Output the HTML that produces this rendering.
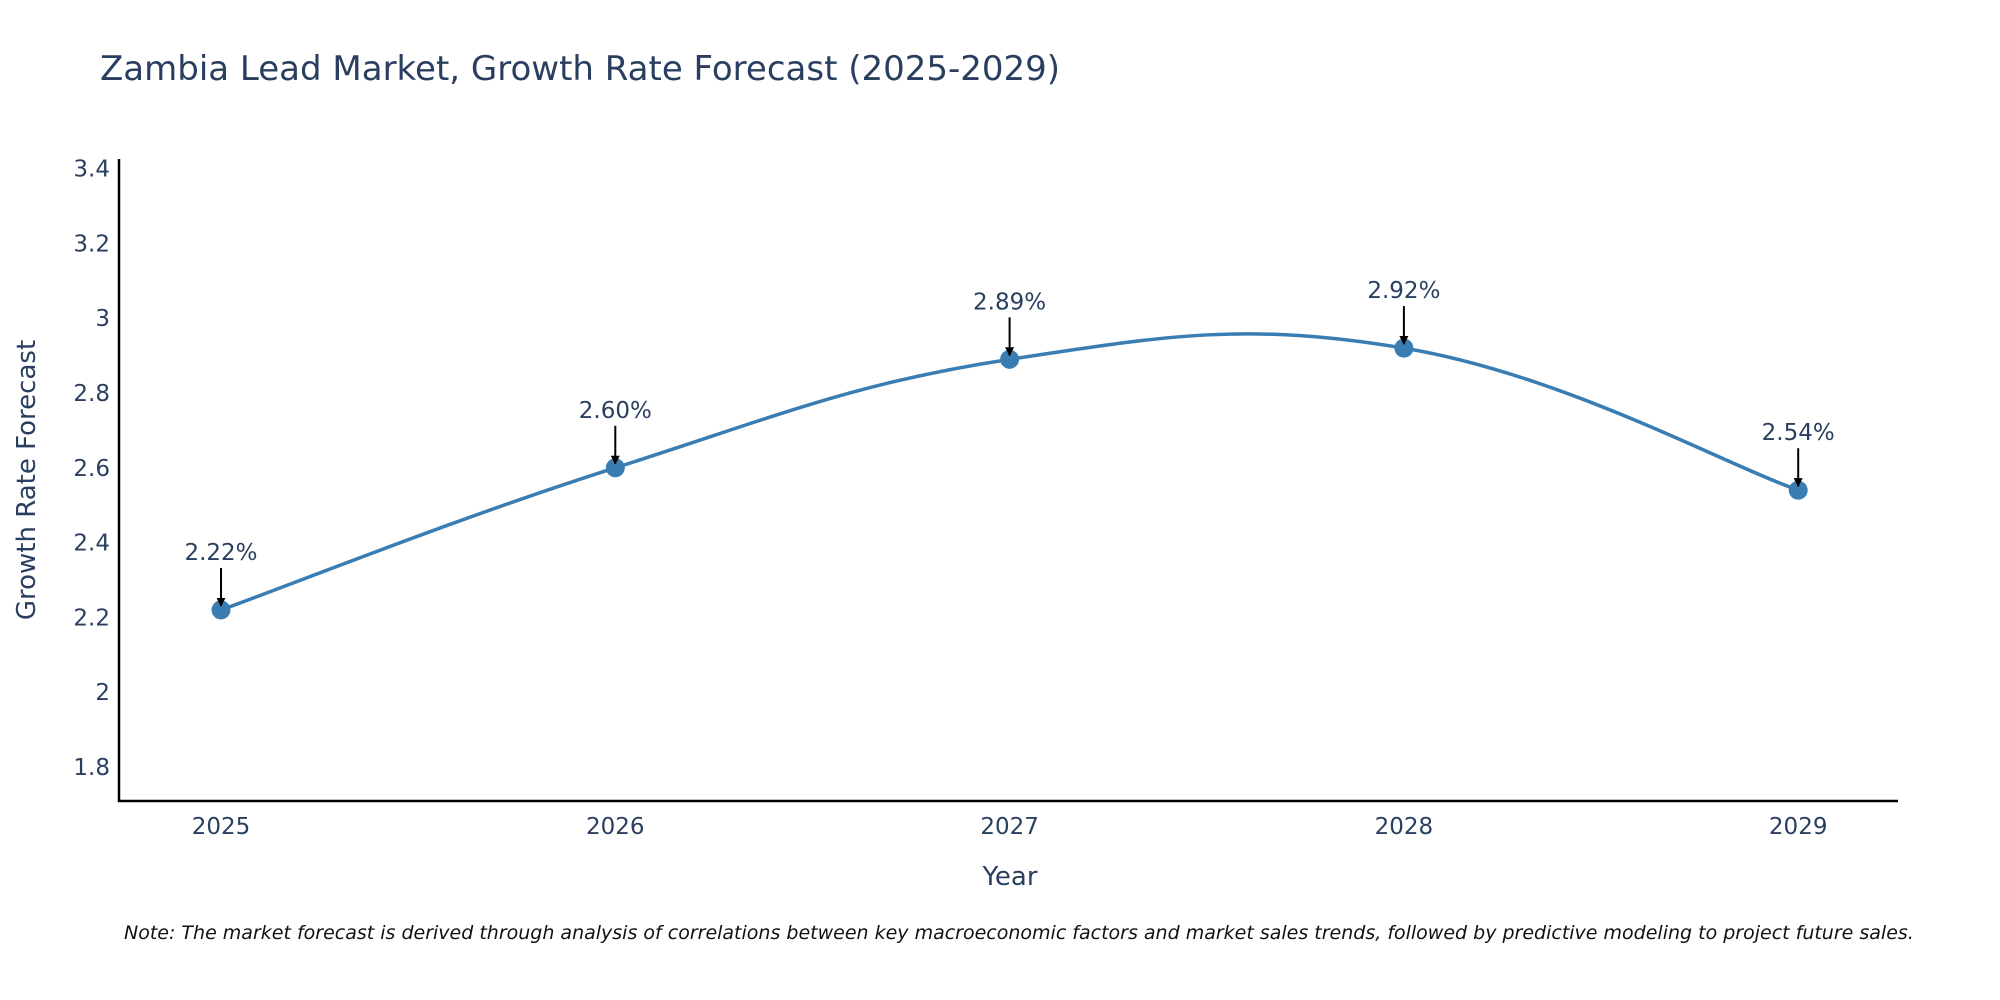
<!DOCTYPE html>
<html><head><meta charset="utf-8"><style>
html,body{margin:0;padding:0;background:#fff;}
svg{display:block;font-family:"DejaVu Sans","Liberation Sans",sans-serif;}
</style></head><body>
<svg id="chart" width="2000" height="1000" viewBox="0 0 2000 1000" xmlns="http://www.w3.org/2000/svg">
<defs><marker id="ah" viewBox="0 0 10 10" refX="9" refY="5" markerWidth="4.5" markerHeight="4.5" markerUnits="strokeWidth" orient="auto"><path d="M0,0 L10,5 L0,10 z" fill="#000"/></marker></defs>
<text x="100" y="80" font-size="34" fill="#2a3f5f">Zambia Lead Market, Growth Rate Forecast (2025-2029)</text>
<g id="yticks"></g><g id="xticks"></g>
<line x1="119" y1="159" x2="119" y2="802" stroke="#000" stroke-width="2.5"/>
<line x1="118" y1="801" x2="1898" y2="801" stroke="#000" stroke-width="2.5"/>
<path id="line" fill="none" stroke="#3a7db3" stroke-width="3.5"/>
<g id="points"></g><g id="annots"></g>
<text transform="translate(35,480) rotate(-90)" text-anchor="middle" font-size="26" fill="#2a3f5f">Growth Rate Forecast</text>
<text x="1010" y="885" text-anchor="middle" font-size="26" fill="#2a3f5f">Year</text>
<text x="124" y="939" font-size="19" font-style="italic" fill="#111">Note: The market forecast is derived through analysis of correlations between key macroeconomic factors and market sales trends, followed by predictive modeling to project future sales.</text>
</svg>
<script>
const years=[2025,2026,2027,2028,2029];
const values=[2.22,2.60,2.89,2.92,2.54];
const labels=["2.22%","2.60%","2.89%","2.92%","2.54%"];
const yTicks=[1.8,2,2.2,2.4,2.6,2.8,3,3.2,3.4];
const NS="http://www.w3.org/2000/svg";
function xs(y){return 221+(y-2025)*394.3;}
function ys(v){return 767-(v-1.8)/0.2*74.8;}
function mk(t,a,p){const e=document.createElementNS(NS,t);for(const k in a)e.setAttribute(k,a[k]);p.appendChild(e);return e;}
const yt=document.getElementById('yticks');
yTicks.forEach(v=>{const t=mk('text',{x:110,y:ys(v)+8,'text-anchor':'end','font-size':23,fill:'#2a3f5f'},yt);


t.textContent=String(v);});
const xt=document.getElementById('xticks');
years.forEach(y=>{const t=mk('text',{x:xs(y),y:834,'text-anchor':'middle','font-size':23,fill:'#2a3f5f'},xt);


t.textContent=String(y);});
const P=years.map((y,i)=>[xs(y),ys(values[i])]);
let d='M'+P[0][0]+','+P[0][1];
for(let i=0;i<P.length-1;i++){const p0=P[Math.max(i-1,0)],p1=P[i],p2=P[i+1],p3=P[Math.min(i+2,P.length-1)];
const k=1/5;
const c1=[p1[0]+(p2[0]-p0[0])*k,p1[1]+(p2[1]-p0[1])*k],c2=[p2[0]-(p3[0]-p1[0])*k,p2[1]-(p3[1]-p1[1])*k];
d+=` C${c1[0]},${c1[1]} ${c2[0]},${c2[1]} ${p2[0]},${p2[1]}`;}
document.getElementById('line').setAttribute('d',d);
const pg=document.getElementById('points'),ag=document.getElementById('annots');
P.forEach((p,i)=>{const c=mk('circle',{cx:p[0],cy:p[1],r:9.5,fill:'#3a7db3'},pg);


const l=mk('line',{x1:p[0],y1:p[1]-42,x2:p[0],y2:p[1]-4,stroke:'#000','stroke-width':2,'marker-end':'url(#ah)'},ag);


const t=mk('text',{x:p[0],y:p[1]-50,'text-anchor':'middle','font-size':23,fill:'#2a3f5f'},ag);


t.textContent=labels[i];});
</script>
</body></html>
